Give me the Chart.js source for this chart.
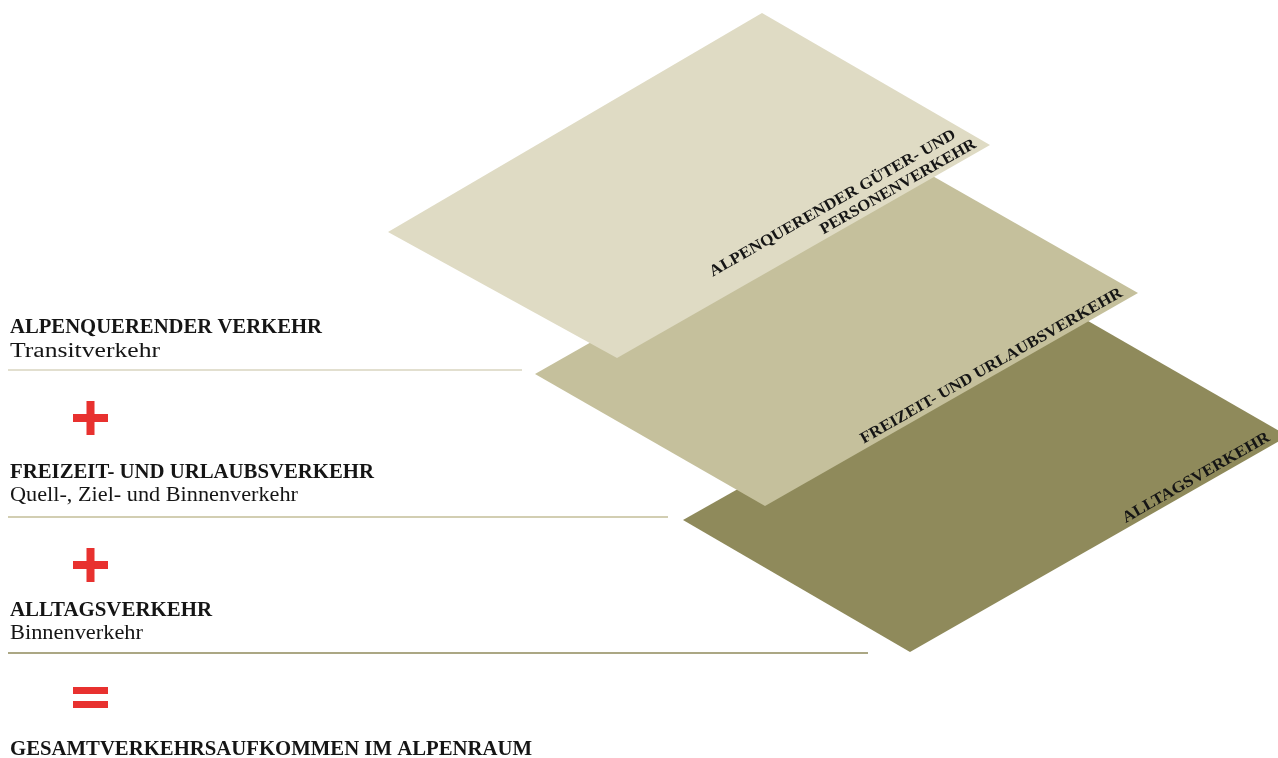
<!DOCTYPE html>
<html lang="de">
<head>
  <meta charset="UTF-8" />
  <title>Gesamtverkehrsaufkommen im Alpenraum</title>
  <style>
    html, body {
      margin: 0;
      background: #ffffff;
    }

    #wrap {
      width: 1278px;
      height: 758px;
      position: relative;
    }
  </style>
</head>
<body>

<div id="wrap">
  <canvas id="diagram" role="img" aria-label="Gesamtverkehrsaufkommen im Alpenraum"></canvas>
</div>

<script src="https://cdn.jsdelivr.net/npm/chart.js"></script>

<script>
// plane corners, in order: left, top, right, bottom
const planeTopX = [388, 762, 990, 617];
const planeTopY = [232, 13, 145, 358];
const planeMidX = [535, 908, 1138, 765];
const planeMidY = [374, 162, 293, 506];
const planeLowX = [683, 1062, 1288, 910];
const planeLowY = [520, 306, 436, 652];

// separator lines under each row
const sepStartX = [8, 8, 8];
const sepEndX = [522, 668, 868];
const sepY = [370, 517, 653];

// texts
const rowHeadings = ['ALPENQUERENDER VERKEHR', 'FREIZEIT- UND URLAUBSVERKEHR', 'ALLTAGSVERKEHR', 'GESAMTVERKEHRSAUFKOMMEN IM ALPENRAUM'];
const rowSubtitles = ['Transitverkehr', 'Quell-, Ziel- und Binnenverkehr', 'Binnenverkehr'];
const operators = ['+', '+', '='];
const planeLabels = [
  ['ALPENQUERENDER GÜTER- UND', 'PERSONENVERKEHR'],
  ['FREIZEIT- UND URLAUBSVERKEHR'],
  ['ALLTAGSVERKEHR']
];

const planeColors = ['#dfdbc4', '#c5c09c', '#8f8a5b'];
const sepColors = ['#d9d5bf', '#c3be98', '#8f8a5b'];
const opColor = '#e8312f';
const textColor = '#151515';

function toPoints(xs, ys) {
  const pts = xs.map((v, i) => ({ x: v, y: ys[i] }));
  pts.push({ x: xs[0], y: ys[0] });
  return pts;
}

// layout of the texts (pixels in the 1278 x 758 frame)
const headingLayout = { x: 10, y: [333, 478, 616, 755], w: [312, 364, 202, 522] };
const subtitleLayout = { x: 10, y: [357, 501, 639], w: [150, 288, 133] };
const operatorLayout = { x0: 73, x1: 108, y: [418, 565, 697], arm: 17, thick: 8 };
// per plane label line: e = along-edge offset from right corner, d = inset of baseline, w = text length
const planeLabelLayout = [
  [{ e: -25, d: 23, w: 281 }, { e: -12, d: 5, w: 177 }],
  [{ e: -14, d: 5, w: 299 }],
  [{ e: -17, d: 5, w: 167 }]
];

function fitText(ctx, text, width) {
  const w = ctx.measureText(text).width;
  ctx.scale(width / w, 1);
  ctx.fillText(text, 0, 0);
}

const diagramText = {
  id: 'diagramText',
  afterDatasetsDraw(chart) {
    const ctx = chart.ctx;
    const sx = chart.scales.x;
    const sy = chart.scales.y;
    const px = v => sx.getPixelForValue(v);
    const py = v => sy.getPixelForValue(v);

    ctx.save();
    ctx.fillStyle = textColor;
    ctx.textBaseline = 'alphabetic';

    // left column headings
    ctx.font = 'bold 20px "Liberation Serif", serif';
    ctx.textAlign = 'left';
    rowHeadings.forEach((t, i) => {
      ctx.save();
      ctx.translate(px(headingLayout.x), py(headingLayout.y[i]));
      fitText(ctx, t, headingLayout.w[i]);
      ctx.restore();
    });

    ctx.font = '20px "Liberation Serif", serif';
    rowSubtitles.forEach((t, i) => {
      ctx.save();
      ctx.translate(px(subtitleLayout.x), py(subtitleLayout.y[i]));
      fitText(ctx, t, subtitleLayout.w[i]);
      ctx.restore();
    });

    // red plus / equals signs
    ctx.fillStyle = opColor;
    const ol = operatorLayout;
    const cx = (px(ol.x0) + px(ol.x1)) / 2;
    const half = (px(ol.x1) - px(ol.x0)) / 2;
    operators.forEach((op, i) => {
      const cy = py(ol.y[i]);
      if (op === '+') {
        ctx.fillRect(cx - half, cy - ol.thick / 2, half * 2, ol.thick);
        ctx.fillRect(cx - ol.thick / 2, cy - ol.arm, ol.thick, ol.arm * 2);
      } else {
        ctx.fillRect(cx - half, cy - 10, half * 2, 7);
        ctx.fillRect(cx - half, cy + 4, half * 2, 7);
      }
    });

    // labels along the lower right edge of each plane
    ctx.fillStyle = textColor;
    ctx.font = 'bold 16px "Liberation Serif", serif';
    ctx.textAlign = 'right';
    const planes = [[planeTopX, planeTopY], [planeMidX, planeMidY], [planeLowX, planeLowY]];
    planes.forEach(([xs, ys], p) => {
      const rx = px(xs[2]), ry = py(ys[2]);
      const bx = px(xs[3]), by = py(ys[3]);
      const len = Math.hypot(rx - bx, ry - by);
      const ux = (rx - bx) / len, uy = (ry - by) / len;
      const nx = uy, ny = -ux; // points into the plane
      const angle = Math.atan2(uy, ux);
      planeLabels[p].forEach((t, k) => {
        const l = planeLabelLayout[p][k];
        ctx.save();
        ctx.translate(rx + ux * l.e + nx * l.d, ry + uy * l.e + ny * l.d);
        ctx.rotate(angle);
        fitText(ctx, t, l.w);
        ctx.restore();
      });
    });

    ctx.restore();
  }
};

const datasets = [
  { label: 'Alpenquerender Güter- und Personenverkehr', data: toPoints(planeTopX, planeTopY), backgroundColor: planeColors[0] },
  { label: 'Freizeit- und Urlaubsverkehr', data: toPoints(planeMidX, planeMidY), backgroundColor: planeColors[1] },
  { label: 'Alltagsverkehr', data: toPoints(planeLowX, planeLowY), backgroundColor: planeColors[2] }
].map(ds => Object.assign(ds, {
  showLine: true,
  fill: 'shape',
  borderWidth: 0,
  borderColor: ds.backgroundColor,
  pointRadius: 0,
  tension: 0
}));

sepY.forEach((yv, i) => {
  datasets.push({
    label: 'Trennlinie ' + (i + 1),
    data: [{ x: sepStartX[i], y: yv }, { x: sepEndX[i], y: yv }],
    showLine: true,
    fill: false,
    borderColor: sepColors[i],
    borderWidth: 1.5,
    pointRadius: 0
  });
});

new Chart(document.getElementById('diagram'), {
  type: 'scatter',
  data: { datasets },
  options: {
    responsive: true,
    maintainAspectRatio: false,
    animation: false,
    events: [],
    layout: { padding: 0 },
    scales: {
      x: { type: 'linear', min: 0, max: 1278, display: false },
      y: { type: 'linear', min: 0, max: 758, reverse: true, display: false }
    },
    plugins: {
      legend: { display: false },
      tooltip: { enabled: false }
    }
  },
  plugins: [diagramText]
});
</script>

</body>
</html>
